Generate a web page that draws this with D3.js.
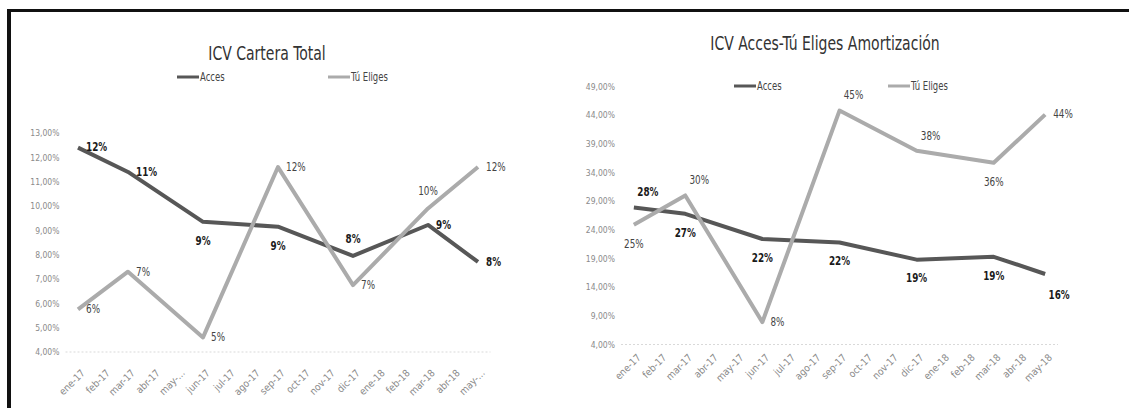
<!DOCTYPE html>
<html>
<head>
<meta charset="utf-8">
<script src="https://cdn.jsdelivr.net/npm/d3@7"></script>
<style>
  body { margin: 0; background: #fff; }
  svg { display: block; }
  text { font-family: "DejaVu Sans Condensed", "DejaVu Sans", sans-serif; }
</style>
</head>
<body>
<svg id="chart"></svg>
<script>
// Months (categories)
const months = ["ene-17", "feb-17", "mar-17", "abr-17", "may-17", "jun-17", "jul-17", "ago-17",
  "sep-17", "oct-17", "nov-17", "dic-17", "ene-18", "feb-18", "mar-18", "abr-18", "may-18"];
// left chart shows truncated labels for may
const leftTickLabels = ["ene-17", "feb-17", "mar-17", "abr-17", "may-...", "jun-17", "jul-17", "ago-17",
  "sep-17", "oct-17", "nov-17", "dic-17", "ene-18", "feb-18", "mar-18", "abr-18", "may-..."];
const rightTickLabels = months.slice();

// ICV Cartera Total (%)
const carteraAcces = [12.4, null, 11.4, null, null, 9.35, null, null, 9.15, null, null, 7.95, null, null, 9.22, null, 7.7];
const carteraTu = [5.75, null, 7.3, null, null, 4.6, null, null, 11.6, null, null, 6.75, null, null, 9.9, null, 11.6];
const carteraTicks = [4, 5, 6, 7, 8, 9, 10, 11, 12, 13];

// ICV Acces-Tú Eliges Amortización (%)
const amortAcces = [27.9, null, 26.8, null, null, 22.4, null, null, 21.8, null, null, 18.8, null, null, 19.3, null, 16.3];
const amortTu = [24.9, null, 30.0, null, null, 7.9, null, null, 44.8, null, null, 37.8, null, null, 35.7, null, 44.1];
const amortTicks = [4, 9, 14, 19, 24, 29, 34, 39, 44, 49];

// where each data label sits relative to its point
const carteraAccesPos = ["r", null, "r", null, null, "b", null, null, "b", null, null, "t", null, null, "r", null, "r"];
const carteraTuPos = ["r", null, "r", null, null, "r", null, null, "r", null, null, "r", null, null, "t", null, "r"];
const amortAccesPos = ["tr", null, "b", null, null, "b", null, null, "b", null, null, "b", null, null, "b", null, "br"];
const amortTuPos = ["b", null, "tr", null, null, "r", null, null, "tr", null, null, "tr", null, null, "b", null, "r"];

const seriesNames = ["Acces", "Tú Eliges"];

const width = 1129, height = 408;
const svg = d3.select("#chart").attr("width", width).attr("height", height);

// the scanned picture is squeezed sideways, so text is narrowed a bit
const squeeze = 0.82;

// spanish number format: 13,00%
const esLocale = d3.formatLocale({ decimal: ",", thousands: ".", grouping: [3], currency: ["", "€"] });
const tickFormat = d => esLocale.format(".2f")(d) + "%";

// text helper, narrowed horizontally around its anchor
function addText(g, x, y, str, size) {
  return g.append("text")
    .attr("transform", `translate(${x},${y}) scale(${squeeze},1)`)
    .attr("font-size", size)
    .text(str);
}

// frame (top and left border of the scanned picture)
svg.append("line").attr("x1", 7).attr("x2", width).attr("y1", 10.5).attr("y2", 10.5)
  .attr("stroke", "#111").attr("stroke-width", 3);
svg.append("line").attr("x1", 9).attr("x2", 9).attr("y1", 9).attr("y2", height)
  .attr("stroke", "#111").attr("stroke-width", 4);

const colors = { "Acces": "#575757", "Tú Eliges": "#ababab" };

const offsets = {
  r: { dx: 8, dy: 0, anchor: "start" },
  t: { dx: 0, dy: -17, anchor: "middle" },
  b: { dx: 0, dy: 19, anchor: "middle" },
  tr: { dx: 14, dy: -15, anchor: "middle" },
  br: { dx: 14, dy: 21, anchor: "middle" }
};

function drawChart(cfg) {
  const g = svg.append("g");

  const x = d3.scaleBand().domain(months).range(cfg.xRange);
  const y = d3.scaleLinear().domain(d3.extent(cfg.ticks)).range(cfg.yRange);
  const cx = m => x(m) + x.bandwidth() / 2;

  // title
  addText(g, cfg.titleX, cfg.titleY, cfg.title, 19)
    .attr("text-anchor", "middle")
    .attr("fill", "#333");

  // legend
  seriesNames.forEach((name, i) => {
    const lx = cfg.legendX[i];
    g.append("line")
      .attr("x1", lx).attr("x2", lx + 22)
      .attr("y1", cfg.legendY).attr("y2", cfg.legendY)
      .attr("stroke", colors[name]).attr("stroke-width", 3);
    addText(g, lx + 23, cfg.legendY, name, 11.5)
      .attr("dominant-baseline", "central")
      .attr("fill", "#444");
  });

  // y axis (labels only)
  const yAxis = g.append("g")
    .attr("transform", `translate(${cfg.xRange[0] - 3},0)`)
    .call(d3.axisLeft(y).tickValues(cfg.ticks).tickFormat(tickFormat).tickSize(0));
  yAxis.select(".domain").remove();
  yAxis.selectAll("text")
    .attr("font-family", "'DejaVu Sans Condensed', sans-serif")
    .attr("font-size", 8.5)
    .attr("fill", "#8a8a8a");

  // baseline
  g.append("line")
    .attr("x1", cfg.xRange[0]).attr("x2", cfg.xRange[1])
    .attr("y1", y(cfg.ticks[0])).attr("y2", y(cfg.ticks[0]))
    .attr("stroke", "#d9d9d9").attr("stroke-width", 1)
    .attr("stroke-dasharray", "2,2");

  // x axis with rotated labels
  const xAxis = g.append("g")
    .attr("transform", `translate(0,${y(cfg.ticks[0]) + cfg.xLabelGap})`)
    .call(d3.axisBottom(x).tickSize(0).tickFormat((d, i) => cfg.tickLabels[i]));
  xAxis.select(".domain").remove();
  xAxis.selectAll("text")
    .attr("font-family", "'DejaVu Sans Condensed', sans-serif")
    .attr("font-size", 10)
    .attr("fill", "#8a8a8a")
    .style("text-anchor", "end")
    .attr("dy", "0.35em")
    .attr("transform", "translate(3,0) rotate(-45)");

  // series lines, gaps spanned
  cfg.series.forEach(s => {
    const pts = months.map((m, i) => ({ m: m, v: s.values[i], pos: s.pos[i] }))
      .filter(d => d.v !== null);

    const line = d3.line()
      .x(d => cx(d.m))
      .y(d => y(d.v));

    g.append("path")
      .datum(pts)
      .attr("fill", "none")
      .attr("stroke", colors[s.name])
      .attr("stroke-width", 4)
      .attr("stroke-linejoin", "round")
      .attr("d", line);

    // data labels
    pts.forEach(d => {
      const o = offsets[d.pos];
      addText(g, cx(d.m) + o.dx, y(d.v) + o.dy, Math.round(d.v) + "%", 12)
        .attr("text-anchor", o.anchor)
        .attr("dominant-baseline", "central")
        .attr("font-weight", s.name === "Acces" ? "bold" : "normal")
        .attr("fill", s.name === "Acces" ? "#1a1a1a" : "#444");
    });
  });
}

drawChart({
  title: "ICV Cartera Total",
  titleX: 267, titleY: 60,
  legendX: [177, 328], legendY: 77,
  xRange: [65.5, 490.5], yRange: [352, 133],
  xLabelGap: 17,
  ticks: carteraTicks,
  tickLabels: leftTickLabels,
  series: [
    { name: "Acces", values: carteraAcces, pos: carteraAccesPos },
    { name: "Tú Eliges", values: carteraTu, pos: carteraTuPos }
  ]
});

drawChart({
  title: "ICV Acces-Tú Eliges Amortización",
  titleX: 825, titleY: 50,
  legendX: [734, 888], legendY: 86,
  xRange: [621, 1058], yRange: [344.5, 86.5],
  xLabelGap: 9,
  ticks: amortTicks,
  tickLabels: rightTickLabels,
  series: [
    { name: "Acces", values: amortAcces, pos: amortAccesPos },
    { name: "Tú Eliges", values: amortTu, pos: amortTuPos }
  ]
});
</script>
</body>
</html>
